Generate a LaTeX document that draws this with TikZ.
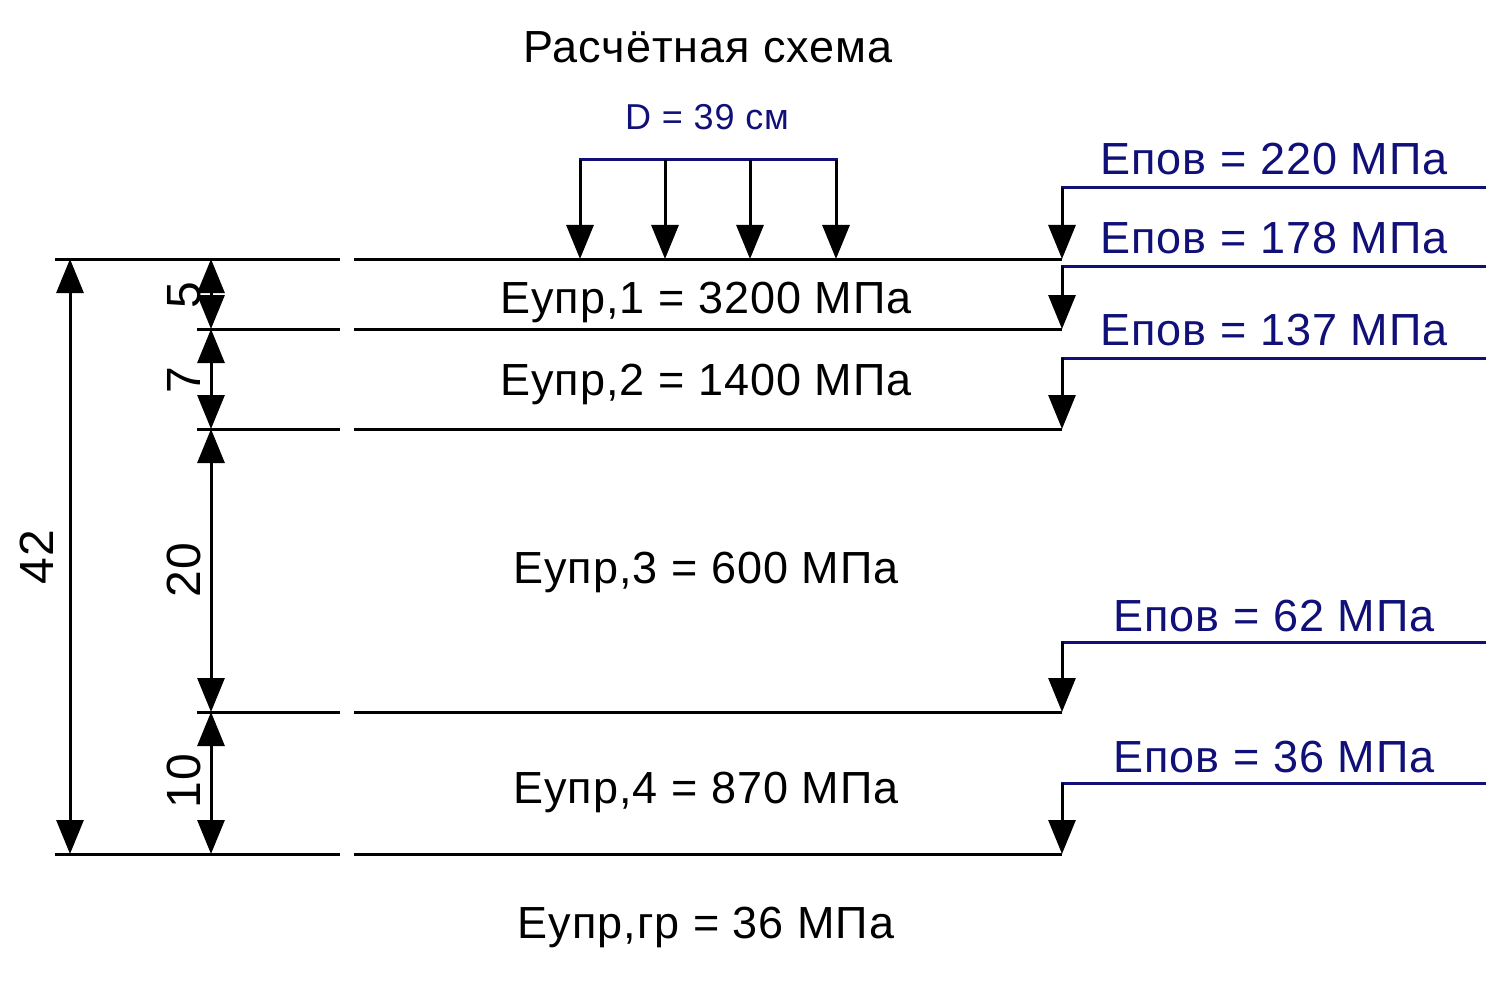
\documentclass[tikz,border=0pt]{standalone}
\usepackage{fontspec}
\setmainfont[LetterSpace=2.2]{Liberation Sans}
\usetikzlibrary{arrows.meta}
\definecolor{navy}{RGB}{16,16,120}
\begin{document}
\begin{tikzpicture}[x=1pt,y=-1pt,
  ln/.style={line width=3pt, draw=black},
  bl/.style={line width=3pt, draw=navy, line cap=rect},
  tipd/.style={-{Triangle[length=34pt,width=27pt]}},
  dimarr/.style={{Triangle[length=34pt,width=27pt]}-{Triangle[length=34pt,width=27pt]}},
  lbl/.style={font=\fontsize{45}{54}\selectfont, inner sep=0pt, anchor=base},
  blbl/.style={lbl, text=navy},
  dimlbl/.style={font=\fontsize{48}{58}\selectfont, inner sep=0pt, anchor=base, rotate=90}]
\useasboundingbox (0,0) rectangle (1486,1003);

% layer boundary points
\coordinate (A0) at (55,259);  \coordinate (B0) at (340,259);  \coordinate (C0) at (354,259);  \coordinate (R0) at (1062,259);
\coordinate (A1) at (197,329); \coordinate (B1) at (340,329);  \coordinate (C1) at (354,329);  \coordinate (R1) at (1062,329);
\coordinate (A2) at (197,429); \coordinate (B2) at (340,429);  \coordinate (C2) at (354,429);  \coordinate (R2) at (1062,429);
\coordinate (A3) at (197,712); \coordinate (B3) at (340,712);  \coordinate (C3) at (354,712);  \coordinate (R3) at (1062,712);
\coordinate (A4) at (55,854);  \coordinate (B4) at (340,854);  \coordinate (C4) at (354,854);  \coordinate (R4) at (1062,854);

\foreach \i in {0,...,4}{
  \draw[ln] (A\i) -- (B\i);
  \draw[ln] (C\i) -- (R\i);
}

% dimension lines
\coordinate (T42) at (70,259); \coordinate (U42) at (70,854);
\draw[ln,dimarr] (T42) -- (U42);
\coordinate (D0) at (211,259); \coordinate (D1) at (211,329); \coordinate (D2) at (211,429);
\coordinate (D3) at (211,712); \coordinate (D4) at (211,854);
\draw[ln,dimarr] (D0) -- (D1);
\draw[ln,dimarr] (D1) -- (D2);
\draw[ln,dimarr] (D2) -- (D3);
\draw[ln,dimarr] (D3) -- (D4);

\node[dimlbl] (n42) at (53,557) {42};
\node[dimlbl] (n5) at (200,295) {5};
\node[dimlbl] (n7) at (200,380) {7};
\node[dimlbl] (n20) at (200,570) {20};
\node[dimlbl] (n10) at (200,781) {10};

% load
\coordinate (P1) at (580,160); \coordinate (P2) at (665,160); \coordinate (P3) at (750,160); \coordinate (P4) at (836,160);
\coordinate (Q1) at (580,259); \coordinate (Q2) at (665,259); \coordinate (Q3) at (750,259); \coordinate (Q4) at (836,259);
\draw[bl] (P1) -- (P4);
\foreach \i in {1,...,4}{\draw[ln,tipd] (P\i) -- (Q\i);}
\node[blbl, font=\fontsize{36}{43}\selectfont] (D) at (707,130) {D = 39 см};

% title and layer labels
\node[lbl] (title) at (708,63) {Расчётная схема};
\node[lbl] (e1) at (706,313) {Еупр,1 = 3200 МПа};
\node[lbl] (e2) at (706,395) {Еупр,2 = 1400 МПа};
\node[lbl] (e3) at (706,583) {Еупр,3 = 600 МПа};
\node[lbl] (e4) at (706,803) {Еупр,4 = 870 МПа};
\node[lbl] (eg) at (706,938) {Еупр,гр = 36 МПа};

% surface moduli leaders
\foreach \i/\y in {0/188,1/266,2/358,3/642,4/783}{
  \coordinate (S\i) at (1486,\y);
  \coordinate (K\i) at (1062,\y);
  \draw[bl] (S\i) -- (K\i);
  \draw[ln,tipd] (K\i) -- (R\i);
}
\node[blbl] (p0) at (1274,175) {Епов = 220 МПа};
\node[blbl] (p1) at (1274,254) {Епов = 178 МПа};
\node[blbl] (p2) at (1274,345) {Епов = 137 МПа};
\node[blbl] (p3) at (1274,631) {Епов = 62 МПа};
\node[blbl] (p4) at (1274,772) {Епов = 36 МПа};
\end{tikzpicture}
\end{document}
